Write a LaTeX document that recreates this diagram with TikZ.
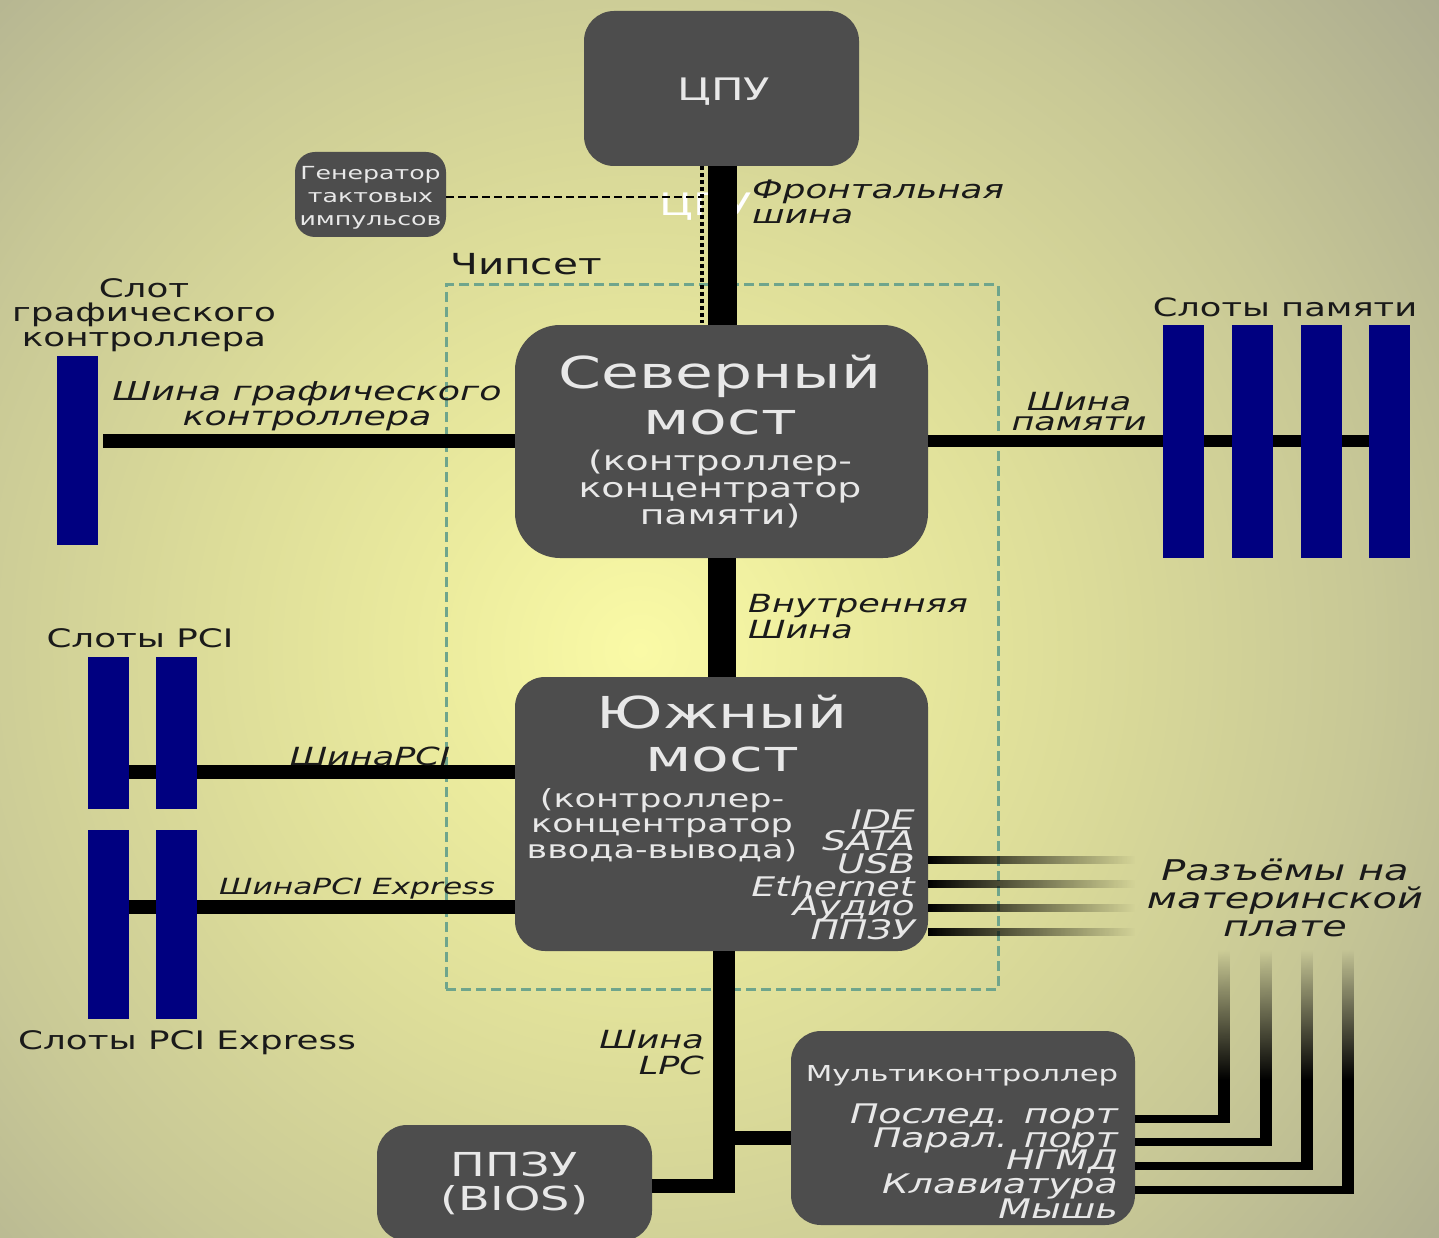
\documentclass[tikz,border=0pt]{standalone}
\usepackage{fontspec}
\setmainfont[FakeStretch=1.4]{DejaVu Sans}
\usetikzlibrary{fadings,calc}
\definecolor{boxgray}{HTML}{4D4D4D}
\definecolor{slotblue}{HTML}{000080}
\definecolor{boxtext}{HTML}{E8E8E8}
\definecolor{chipgreen}{HTML}{6FA58C}
\definecolor{darktext}{HTML}{1A1A1A}
\definecolor{bga}{HTML}{FAFAA6}
\definecolor{bgb}{HTML}{ECEC9E}
\definecolor{bgc}{HTML}{DCDC99}
\definecolor{bgd}{HTML}{C8C896}
\definecolor{bge}{HTML}{A4A48E}
\pgfdeclareradialshading{pagebg}{\pgfpoint{0bp}{0bp}}{%
 color(0bp)=(bga);
 color(5bp)=(bgb);
 color(11bp)=(bgc);
 color(18bp)=(bgd);
 color(28bp)=(bge);
 color(50bp)=(bge)}
\tikzfading[name=fadeeast,left color=transparent!0,right color=transparent!100]
\tikzfading[name=fadenorth,bottom color=transparent!0,top color=transparent!100]
\newcommand{\fsz}[1]{\fontsize{#1}{#1}\selectfont}
\tikzset{
 box/.style={fill=boxgray,inner sep=0pt,text=boxtext,align=center},
 slot/.style={fill=slotblue,inner sep=0pt},
 bus/.style={draw=black,line cap=butt},
 onbox/.style={text=boxtext,inner sep=0pt,align=center},
 onboxit/.style={text=boxtext,inner sep=0pt,align=right,font=\itshape\fsz{27}},
 lab/.style={text=darktext,inner sep=0pt,align=center},
 labit/.style={text=darktext,inner sep=0pt,font=\itshape\fsz{25}},
 fadeh/.style={fill=black,path fading=fadeeast},
 fadev/.style={fill=black,path fading=fadenorth},
}
\begin{document}
\begin{tikzpicture}[x=1pt,y=-1pt]
\useasboundingbox (0,0) rectangle (1439,1238);
\clip (0,0) rectangle (1439,1238);
\fill[shading=pagebg] (640-1000,650-1000) rectangle (640+1000,650+1000);
% chipset frame
\node[draw=chipgreen,line width=3pt,dash pattern=on 10pt off 5pt,minimum width=552pt,minimum height=704pt,inner sep=0pt] (chipset) at (722,637) {};
% stray text under the front bus
\node[text=white,inner sep=0pt,font=\fsz{31}] (ghost) at (706,207) {ЦПУ};
% boxes
\node[box,rounded corners=30pt,minimum width=275pt,minimum height=155pt] (cpu) at (721.5,88.5) {};
\node[onbox,font=\fsz{31}] (cputext) at (724,92) {ЦПУ};
\node[box,rounded corners=20pt,minimum width=151pt,minimum height=85pt] (clock) at (370.5,194.5) {};
\node[onbox,font=\fontsize{18}{23}\selectfont] (clocktext) at (370.5,197.5) {Генератор\\тактовых\\импульсов};
\node[box,rounded corners=45pt,minimum width=413pt,minimum height=233pt] (north) at (721.5,441.5) {};
\node[box,rounded corners=30pt,minimum width=413pt,minimum height=274pt] (south) at (721.5,814) {};
\node[box,rounded corners=30pt,minimum width=275pt,minimum height=116pt,font=\fontsize{33}{34}\selectfont] (bios) at (514.5,1183) {ППЗУ\\(BIOS)};
\node[box,rounded corners=30pt,minimum width=344pt,minimum height=194pt] (multi) at (963,1128) {};
% coordinates for connectors
\coordinate (fsbT) at (722,166); \coordinate (fsbB) at (722,325);
\coordinate (clkT) at (702,166); \coordinate (clkB) at (702,323);
\coordinate (clkJ) at (702,197);
\coordinate (intT) at (722,558); \coordinate (intB) at (722,677);
\coordinate (lpcT) at (724,951); \coordinate (lpcB) at (724,1192);
\coordinate (biosJ) at (735,1186); \coordinate (multiJ) at (735,1138);
\coordinate (agpL) at (103,441); \coordinate (agpR) at (515,441);
\coordinate (memL) at (928,441); \coordinate (memR) at (1375,441);
\coordinate (pciL) at (129,772); \coordinate (pciR) at (515,772);
\coordinate (pcieL) at (129,907); \coordinate (pcieR) at (515,907);
% buses
\draw[bus,line width=29pt] (fsbT) -- (fsbB);
\draw[bus,line width=28pt] (intT) -- (intB);
\draw[bus,line width=22pt] (lpcT) -- (lpcB);
\draw[bus,line width=14pt] (bios.east |- biosJ) -- (biosJ);
\draw[bus,line width=14pt] (multiJ) -- (multi.west |- multiJ);
\draw[bus,line width=14pt] (agpL) -- (agpR);
\draw[bus,line width=12pt] (memL) -- (memR);
\draw[bus,line width=14pt] (pciL) -- (pciR);
\draw[bus,line width=14pt] (pcieL) -- (pcieR);
% clock lines
\draw[draw=black,line width=2pt,dash pattern=on 8pt off 4pt] (clock.east |- clkJ) -- (clkJ);
\draw[draw=black,line width=3.5pt,dash pattern=on 4pt off 3pt] (clkT) -- (clkB);
% slots
\node[slot,minimum width=41pt,minimum height=189pt] (agp) at (77.5,450.5) {};
\foreach \n/\x in {a/1183,b/1252,c/1321,d/1389.5}
  \node[slot,minimum width=41pt,minimum height=233pt] (mem\n) at (\x,441.5) {};
\foreach \n/\x in {a/108.5,b/176.5}{
  \node[slot,minimum width=41pt,minimum height=152pt] (pci\n) at (\x,733) {};
  \node[slot,minimum width=41pt,minimum height=189pt] (pcie\n) at (\x,924.5) {};
}
% south bridge connector stubs, fading out
\foreach \n/\y in {a/860,b/884,c/908,d/932}{
  \coordinate (sb\n1) at (928,\y-4); \coordinate (sb\n2) at (1135,\y+4);
  \fill[fadeh] (sb\n1) rectangle (sb\n2);
}
% super I/O ports
\foreach \n/\x/\y in {a/1224/1119,b/1266/1142,c/1307/1166,d/1348/1190}{
  \coordinate (pv\n) at (\x,1080);
  \coordinate (pc\n) at (\x,\y+4);
  \coordinate (ph\n) at (1135,\y);
  \draw[bus,line width=12pt] (pv\n) -- (pc\n);
  \draw[bus,line width=8pt] (ph\n) -- (pc\n |- ph\n);
  \coordinate (pt\n1) at (\x-6,950); \coordinate (pt\n2) at (\x+6,1080);
  \fill[fadev] (pt\n1) rectangle (pt\n2);
}
% north bridge text
\node[onbox,font=\fsz{44}] (nt1) at (720,376) {Северный};
\node[onbox,font=\fsz{44}] (nt2) at (720,422) {мост};
\node[onbox,font=\fontsize{27}{27}\selectfont] (nt3) at (720,489) {(контроллер-\\концентратор\\памяти)};
% south bridge text
\node[onbox,font=\fsz{44}] (st1) at (722,712) {Южный};
\node[onbox,font=\fsz{44}] (st2) at (722,759) {мост};
\node[onbox,font=\fontsize{25}{25.5}\selectfont] (st3) at (662,825) {(контроллер-\\концентратор\\ввода-вывода)};
\foreach \n/\t/\y in {a/IDE/820,b/SATA/841,c/USB/864,d/Ethernet/886,e/Аудио/908,f/ППЗУ/930}
  \node[onboxit,anchor=east] (sp\n) at (915,\y) {\t};
% multi text
\node[onbox,font=\fsz{22}] (mt) at (962,1076) {Мультиконтроллер};
\foreach \n/\t/\y in {a/Послед. порт/1116,b/Парал. порт/1140,c/НГМД/1162,d/Клавиатура/1186,e/Мышь/1209}
  \node[onboxit,anchor=east] (mp\n) at (1118,\y) {\t};
% labels
\node[lab,font=\fsz{29}] (chiplab) at (526,264) {Чипсет};
\node[lab,font=\fontsize{25.5}{24.5}\selectfont] (agplab) at (144,315) {Слот\\графического\\контроллера};
\node[lab,font=\fsz{25.2}] (memlab) at (1285,307) {Слоты памяти};
\node[lab,font=\fsz{25.5}] (pcilab) at (140,638) {Слоты PCI};
\node[lab,font=\fsz{25.5}] (pcielab) at (187,1043) {Слоты PCI Express};
\node[labit,align=left,anchor=west,font=\itshape\fontsize{25.5}{25}\selectfont] (fsblab) at (752,202) {Фронтальная\\шина};
\node[labit,align=center,font=\itshape\fontsize{26}{25}\selectfont] (agpbus) at (307,406) {Шина графического\\контроллера};
\node[labit,align=center,font=\itshape\fontsize{25}{20}\selectfont] (membus) at (1079,412) {Шина\\памяти};
\node[labit,align=left,anchor=west,font=\itshape\fontsize{25}{26}\selectfont] (intlab) at (748,617) {Внутренняя\\Шина};
\node[labit] (pcibus) at (370,756) {ШинаPCI};
\node[labit,font=\itshape\fsz{22.3}] (pciebus) at (357,889) {ШинаPCI Express};
\node[labit,align=right,anchor=east,font=\itshape\fontsize{25}{26}\selectfont] (lpclab) at (704,1053) {Шина\\LPC};
\node[labit,align=center,font=\itshape\fontsize{28.5}{28}\selectfont] (conlab) at (1285,898) {Разъёмы на\\материнской\\плате};
\end{tikzpicture}
\end{document}
